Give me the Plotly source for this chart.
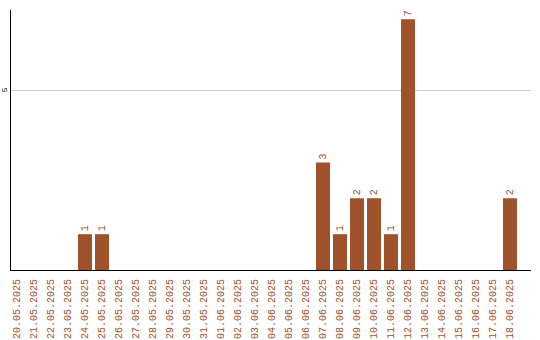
import plotly.graph_objects as go

dates = ["20.05.2025","21.05.2025","22.05.2025","23.05.2025","24.05.2025","25.05.2025",
         "26.05.2025","27.05.2025","28.05.2025","29.05.2025","30.05.2025","31.05.2025",
         "01.06.2025","02.06.2025","03.06.2025","04.06.2025","05.06.2025","06.06.2025",
         "07.06.2025","08.06.2025","09.06.2025","10.06.2025","11.06.2025","12.06.2025",
         "13.06.2025","14.06.2025","15.06.2025","16.06.2025","17.06.2025","18.06.2025"]
counts = [0,0,0,0,1,1,0,0,0,0,0,0,0,0,0,0,0,0,3,1,2,2,1,7,0,0,0,0,0,2]

color = "#a0522d"
labels = [str(v) if v > 0 else "" for v in counts]

fig = go.Figure(go.Bar(
    x=dates, y=counts, marker_color=color, marker_line_width=0,
    text=labels, textposition="outside", textangle=-90,
    textfont=dict(family="Liberation Mono", size=10, color=color),
    cliponaxis=False,
))

fig.update_layout(
    width=540, height=340,
    margin=dict(l=11, r=9, t=10, b=70),
    paper_bgcolor="white", plot_bgcolor="white",
    bargap=3/17,
    showlegend=False,
    xaxis=dict(
        type="category", range=[-0.353, 30.235], automargin=False,
        tickangle=-90, ticks="outside", ticklen=4, tickcolor="rgba(0,0,0,0)",
        showgrid=False,
        tickfont=dict(family="Liberation Mono", size=10, color=color),
        showline=True, linecolor="black", linewidth=1,
    ),
    yaxis=dict(
        range=[0, 7.26], tickvals=[5], ticktext=["5"], tickangle=-90,
        automargin=False,
        ticks="", showgrid=True, gridcolor="#cccccc", gridwidth=1,
        tickfont=dict(family="Liberation Mono", size=8, color="black"),
        showline=True, linecolor="black", linewidth=1, zeroline=False,
    ),
)

fig.write_html("out.html")
